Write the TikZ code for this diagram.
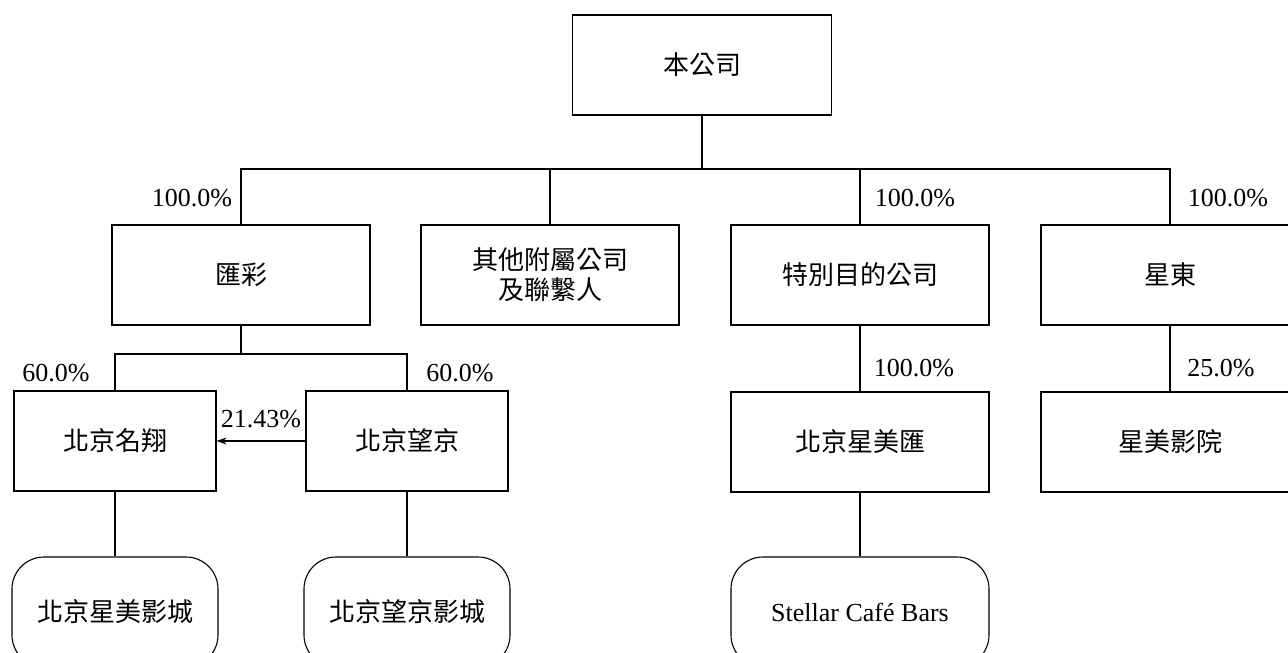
\documentclass[tikz,border=0pt]{standalone}
\usepackage{fontspec}
\setmainfont{Liberation Serif}
\newfontfamily\cjk{Noto Sans CJK TC}
\usetikzlibrary{arrows.meta}

\begin{document}
\begin{tikzpicture}[x=1pt, y=-1pt, line width=1.1pt,
	 >={Stealth[length=10pt,width=7pt]},
	 orgbox/.style={draw, minimum width=258pt, minimum height=100pt, inner sep=2pt, align=center, font=\cjk\fontsize{26}{30}\selectfont},
	 smallbox/.style={orgbox, minimum width=202pt},
	 cinema/.style={draw, rounded corners=32pt, minimum width=206pt, minimum height=110pt, font=\cjk\fontsize{26}{30}\selectfont},
	 share/.style={font=\fontsize{26}{30}\selectfont, inner sep=0pt}]
	\useasboundingbox (0,0) rectangle (1288,653);
	\clip (0,0) rectangle (1288,653);
	% top level
	\node (hq) at (702,65) [orgbox, minimum width=259pt] {本公司};
	\node (huicai) at (241,275) [orgbox] {匯彩};
	\node (others) at (550,275) [orgbox] {其他附屬公司\\及聯繫人};
	\node (spv) at (860,275) [orgbox] {特別目的公司};
	\node (xingdong) at (1170,275) [orgbox] {星東};
	% second level
	\node (mingxiang) at (115,441) [smallbox] {北京名翔};
	\node (wangjing) at (407,441) [smallbox] {北京望京};
	\node (xingmeihui) at (860,442) [orgbox] {北京星美匯};
	\node (xingmeiyy) at (1170,442) [orgbox] {星美影院};
	% cinemas
	\node (cinema1) at (115,612) [cinema] {北京星美影城};
	\node (cinema2) at (407,612) [cinema] {北京望京影城};
	\node (cafe) at (860,612) [cinema, minimum width=258pt, font=\fontsize{26}{30}\selectfont] {Stellar Café Bars};
	% connectors
	\coordinate (bus) at (702,169);
	\coordinate (bus2) at (241,354);
	\draw (hq) -- (bus);
	\draw (huicai) |- (bus) -| (xingdong);
	\draw (bus) -| (others);
	\draw (bus) -| (spv);
	\draw (huicai) -- (bus2);
	\draw (mingxiang) |- (bus2) -| (wangjing);
	\draw[->] (wangjing) -- node[share, above=13pt] {21.43\%} (mingxiang);
	\draw (mingxiang) -- (cinema1);
	\draw (wangjing) -- (cinema2);
	\draw (spv) -- (xingmeihui);
	\draw (xingmeihui) -- (cafe);
	\draw (xingdong) -- (xingmeiyy);
	% shares
	\node (pcthuicai) at (192,198) [share] {100.0\%};
	\node (pctspv) at (915,198) [share] {100.0\%};
	\node (pctxingdong) at (1228,198) [share] {100.0\%};
	\node (pctmingxiang) at (56,373) [share] {60.0\%};
	\node (pctwangjing) at (460,373) [share] {60.0\%};
	\node (pctxingmeihui) at (914,368) [share] {100.0\%};
	\node (pctxingmeiyy) at (1221,368) [share] {25.0\%};
\end{tikzpicture}
\end{document}
